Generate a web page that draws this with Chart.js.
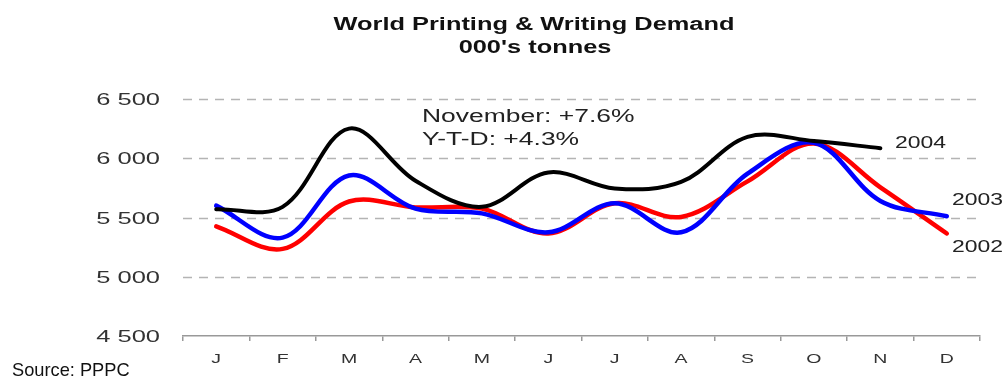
<!DOCTYPE html>
<html>
<head>
<meta charset="utf-8">
<title>World Printing & Writing Demand</title>
<script src="https://cdn.jsdelivr.net/npm/chart.js@4/dist/chart.umd.min.js"></script>
<style>
  html, body { margin: 0; padding: 0; background: #fff; }
  #wrap { width: 1007px; height: 378px; position: relative; }
</style>
</head>
<body>
<div id="wrap"><canvas id="demand-chart"></canvas></div>
<script>
// --- DATA ---
const months = ['J', 'F', 'M', 'A', 'M', 'J', 'J', 'A', 'S', 'O', 'N', 'D'];
const yTicks = [4500, 5000, 5500, 6000, 6500];
const demand2004 = [5570, 5590, 6250, 5810, 5590, 5880, 5745, 5800, 6180, 6145, 6085, null];
const demand2003 = [5600, 5330, 5855, 5575, 5535, 5375, 5620, 5375, 5870, 6130, 5640, 5510];
const demand2002 = [5425, 5235, 5635, 5585, 5575, 5365, 5620, 5505, 5805, 6125, 5755, 5365];
const titleLines = ['World Printing & Writing Demand', "000's tonnes"];
const noteLines = ['November: +7.6%', 'Y-T-D: +4.3%'];
const seriesNames = ['2004', '2003', '2002'];

const FONT = '"Liberation Sans", Arial, sans-serif';

// draws text stretched horizontally (the original text is wide)
function drawText(ctx, text, x, y, size, opts) {
    const sx = opts.sx || 1;
    ctx.save();
    ctx.font = (opts.bold ? 'bold ' : '') + size + 'px ' + FONT;
    ctx.fillStyle = opts.color || '#222';
    ctx.textBaseline = 'alphabetic';
    ctx.textAlign = 'left';
    const w = ctx.measureText(text).width * sx;
    let left = x;
    if (opts.align === 'center') left = x - w / 2;
    if (opts.align === 'right') left = x - w;
    ctx.translate(left, y);
    ctx.scale(sx, 1);
    ctx.fillText(text, 0, 0);
    ctx.restore();
}

// dashed horizontal gridlines, placed by the y scale
const dashGridPlugin = {
    id: 'dashGrid',
    beforeDatasetsDraw(chart) {
        const ctx = chart.ctx;
        const area = chart.chartArea;
        const yScale = chart.scales.y;
        ctx.save();
        ctx.strokeStyle = '#b4b4b4';
        ctx.lineWidth = 1.5;
        ctx.setLineDash([9, 7]);
        yTicks.slice(1).forEach(v => {
            const y = Math.round(yScale.getPixelForValue(v)) + 0.5;
            ctx.beginPath();
            ctx.moveTo(area.left, y);
            ctx.lineTo(area.right, y);
            ctx.stroke();
        });
        ctx.restore();
    }
};

const textPlugin = {
    id: 'textPlugin',
    afterDraw(chart) {
        const ctx = chart.ctx;
        const xScale = chart.scales.x;
        const yScale = chart.scales.y;

        // title
        drawText(ctx, titleLines[0], 534, 30, 18, { bold: true, sx: 1.41, align: 'center', color: '#111' });
        drawText(ctx, titleLines[1], 535, 53, 18, { bold: true, sx: 1.41, align: 'center', color: '#111' });

        // y tick labels
        yTicks.forEach(v => {
            const y = yScale.getPixelForValue(v);
            const label = String(v).replace(/(\d)(\d{3})$/, '$1 $2');
            drawText(ctx, label, 160, y + 6, 17, { sx: 1.5, align: 'right', color: '#333' });
        });

        // x tick labels
        months.forEach((m, i) => {
            drawText(ctx, m, xScale.getPixelForValue(i), 363, 13, { sx: 1.5, align: 'center', color: '#333' });
        });

        // note
        drawText(ctx, noteLines[0], 422, 122, 18, { sx: 1.47 });
        drawText(ctx, noteLines[1], 422, 145, 18, { sx: 1.47 });

        // series labels
        drawText(ctx, seriesNames[0], 895, 148, 17, { sx: 1.35 });
        drawText(ctx, seriesNames[1], 952, 205, 17, { sx: 1.35 });
        drawText(ctx, seriesNames[2], 952, 252, 17, { sx: 1.35 });

        // source
        drawText(ctx, 'Source: PPPC', 12, 376, 19, { color: '#111', sx: 0.96 });
    }
};

new Chart(document.getElementById('demand-chart'), {
    type: 'line',
    data: {
        labels: months,
        datasets: [
            { label: '2004', data: demand2004, borderColor: '#000000', borderWidth: 4 },
            { label: '2003', data: demand2003, borderColor: '#0000ff', borderWidth: 4.5 },
            { label: '2002', data: demand2002, borderColor: '#ff0000', borderWidth: 4.5 }
        ]
    },
    options: {
        responsive: true,
        maintainAspectRatio: false,
        animation: false,
        layout: { padding: { left: 0, top: 99, right: 27, bottom: 0 } },
        elements: {
            point: { radius: 0, hoverRadius: 0 },
            line: { tension: 0.35, fill: false, borderCapStyle: 'round', borderJoinStyle: 'round' }
        },
        plugins: {
            legend: { display: false },
            title: { display: false },
            tooltip: { enabled: false }
        },
        scales: {
            x: {
                offset: true,
                afterFit: scale => { scale.height = 42; },
                ticks: { display: false },
                grid: {
                    offset: true,
                    drawOnChartArea: false,
                    drawTicks: true,
                    tickLength: 5,
                    color: '#999',
                    lineWidth: 1.5
                },
                border: { display: true, color: '#999', width: 1.5 }
            },
            y: {
                min: 4500,
                max: 6500,
                afterFit: scale => { scale.width = 183; },
                ticks: { display: false, stepSize: 500 },
                grid: { display: false },
                border: { display: false }
            }
        }
    },
    plugins: [dashGridPlugin, textPlugin]
});
</script>
</body>
</html>
